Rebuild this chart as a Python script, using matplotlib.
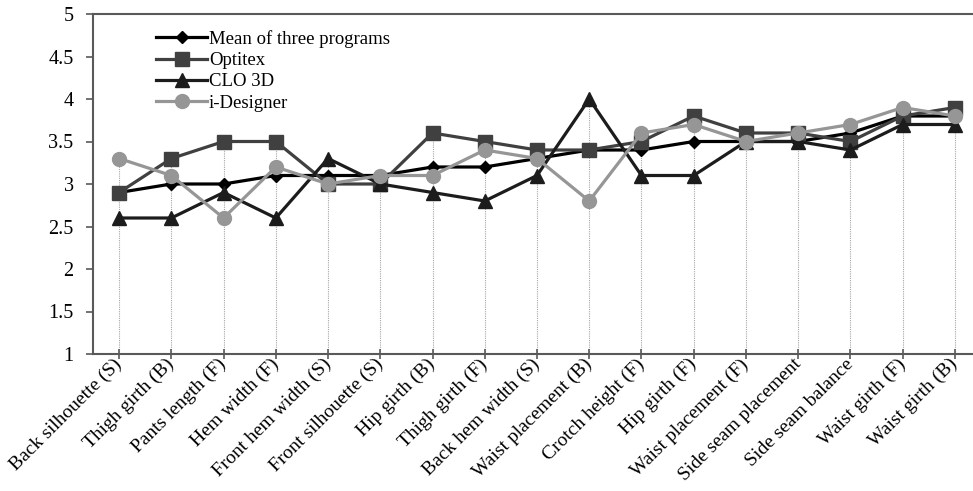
import matplotlib
matplotlib.use('Agg')
from matplotlib import pyplot as plt
import numpy as np

plt.rcParams['font.family'] = ['Liberation Serif', 'DejaVu Serif']

# 数据
categories = ['Back silhouette (S)', 'Thigh girth (B)', 'Pants length (F)', 'Hem width (F)',
              'Front hem width (S)', 'Front silhouette (S)', 'Hip girth (B)', 'Thigh girth (F)',
              'Back hem width (S)', 'Waist placement (B)', 'Crotch height (F)', 'Hip girth (F)',
              'Waist placement (F)', 'Side seam placement', 'Side seam balance',
              'Waist girth (F)', 'Waist girth (B)']
mean_vals = [2.9, 3.0, 3.0, 3.1, 3.1, 3.1, 3.2, 3.2, 3.3, 3.4, 3.4, 3.5, 3.5, 3.5, 3.6, 3.8, 3.8]
optitex = [2.9, 3.3, 3.5, 3.5, 3.0, 3.0, 3.6, 3.5, 3.4, 3.4, 3.5, 3.8, 3.6, 3.6, 3.5, 3.8, 3.9]
clo3d = [2.6, 2.6, 2.9, 2.6, 3.3, 3.0, 2.9, 2.8, 3.1, 4.0, 3.1, 3.1, 3.5, 3.5, 3.4, 3.7, 3.7]
idesigner = [3.3, 3.1, 2.6, 3.2, 3.0, 3.1, 3.1, 3.4, 3.3, 2.8, 3.6, 3.7, 3.5, 3.6, 3.7, 3.9, 3.8]
y_ticks = [1, 1.5, 2, 2.5, 3, 3.5, 4, 4.5, 5]

fig = plt.figure(figsize=(9.73, 4.91), dpi=100)
ax = fig.add_axes([93 / 973, 1 - 354 / 491, 888 / 973, 340 / 491])

x = np.arange(len(categories))

# 垂直线（从底部到最高点）
top = np.max([mean_vals, optitex, clo3d, idesigner], axis=0)
ax.vlines(x, 1, top, colors='#a6a6a6', linestyles=(0, (1, 1)), linewidth=0.8, zorder=1)

ax.plot(x, mean_vals, '-D', color='#000000', lw=2.3, ms=6.5, label='Mean of three programs', zorder=3)
ax.plot(x, optitex, '-s', color='#404040', lw=2.3, ms=10, label='Optitex', zorder=3)
ax.plot(x, clo3d, '-^', color='#1c1c1c', lw=2.3, ms=10, label='CLO 3D', zorder=3)
ax.plot(x, idesigner, '-o', color='#969696', lw=2.3, ms=10, label='i-Designer', zorder=3)

ax.set_xlim(-0.5, len(categories) - 0.5)
ax.set_ylim(1, 5)
ax.set_yticks(y_ticks)
ax.set_yticklabels([f'{v:g}' for v in y_ticks], fontsize=14.5)
ax.set_xticks(x)
ax.set_xticklabels(categories, rotation=45, ha='right', va='center',
                   rotation_mode='anchor', fontsize=14)

for s in ['left', 'bottom', 'top']:
    ax.spines[s].set_color('#595959')
    ax.spines[s].set_linewidth(1.5)
ax.spines['right'].set_visible(False)
ax.tick_params(axis='y', direction='out', length=5, color='#595959', width=1.2, pad=9)
ax.tick_params(axis='x', direction='inout', length=7, color='#595959', width=1.2, pad=2)

ax.legend(loc='upper left', bbox_to_anchor=(0.063, 0.975), frameon=False, fontsize=13.5,
          handlelength=2.7, handletextpad=0.1, labelspacing=0.22, borderaxespad=0)

fig.savefig('out.png', dpi=100)
